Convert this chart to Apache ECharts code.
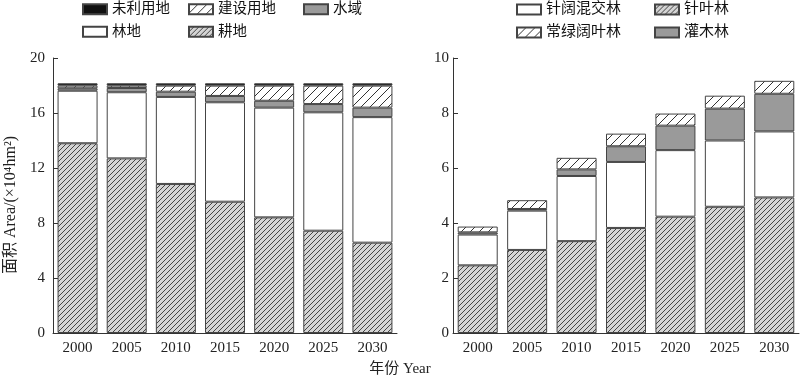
<!DOCTYPE html>
<html>
<head>
<meta charset="utf-8">
<script src="https://cdn.jsdelivr.net/npm/echarts@6/dist/echarts.min.js"></script>
<style>
  html, body { margin: 0; padding: 0; background: #fff; }
  #chart { width: 800px; height: 377px; }
</style>
</head>
<body>
<div id="chart"></div>
<script>
  // years on both x axes
  var years = ['2000', '2005', '2010', '2015', '2020', '2025', '2030'];

  // left panel: land use (10^4 hm2)
  var cropland = [13.8, 12.7, 10.84, 9.55, 8.41, 7.44, 6.57];
  var forest = [3.82, 4.81, 6.33, 7.23, 7.98, 8.61, 9.13];
  var water = [0.18, 0.31, 0.38, 0.46, 0.5, 0.6, 0.69];
  var construction = [0.19, 0.17, 0.44, 0.75, 1.1, 1.34, 1.6];
  var unused = [0.17, 0.17, 0.17, 0.17, 0.17, 0.17, 0.17];

  // right panel: forest types
  var conifer = [2.46, 3.02, 3.34, 3.82, 4.23, 4.59, 4.93];
  var mixed = [1.12, 1.43, 2.37, 2.40, 2.42, 2.41, 2.40];
  var shrub = [0.08, 0.06, 0.24, 0.57, 0.89, 1.16, 1.37];
  var evergreen = [0.21, 0.32, 0.42, 0.46, 0.44, 0.47, 0.47];

  var FONT = '"Liberation Serif", "Noto Sans CJK SC", serif';
  var EDGE = '#444';

  // diagonal hatch tile
  function hatch(bg, line, period) {
    var c = document.createElement('canvas');
    c.width = period; c.height = period;
    var ctx = c.getContext('2d');
    ctx.fillStyle = bg;
    ctx.fillRect(0, 0, period, period);
    ctx.strokeStyle = line;
    ctx.lineWidth = 1;
    ctx.beginPath();
    ctx.moveTo(-1, period + 1); ctx.lineTo(period + 1, -1);
    ctx.moveTo(-1, 1); ctx.lineTo(1, -1);
    ctx.moveTo(period - 1, period + 1); ctx.lineTo(period + 1, period - 1);
    ctx.stroke();
    return { image: c, repeat: 'repeat' };
  }

  var grayHatch = hatch('#d4d4d4', '#444', 5);
  var whiteHatch = hatch('#ffffff', '#333', 9);

  function bar(name, data, fill, idx) {
    return {
      name: name,
      type: 'bar',
      stack: 's' + idx,
      xAxisIndex: idx,
      yAxisIndex: idx,
      barWidth: 40,
      data: data,
      itemStyle: { color: fill, borderColor: EDGE, borderWidth: 1 },
      emphasis: { disabled: true }
    };
  }

  function xAxis(idx) {
    return {
      type: 'category',
      gridIndex: idx,
      data: years,
      axisLine: { lineStyle: { color: '#333', width: 1 } },
      axisTick: { show: false },
      axisLabel: { color: '#222', fontSize: 15, fontFamily: FONT, margin: 8 }
    };
  }

  function yAxis(idx, max, step, margin) {
    return {
      type: 'value',
      gridIndex: idx,
      min: 0,
      max: max,
      interval: step,
      splitLine: { show: false },
      axisLine: { show: true, lineStyle: { color: '#333', width: 1 } },
      axisTick: { show: true, inside: true, length: 5, lineStyle: { color: '#333' } },
      axisLabel: { color: '#222', fontSize: 15, fontFamily: FONT, margin: margin }
    };
  }

  function legend(left, names, size) {
    return {
      orient: 'vertical',
      left: left,
      top: 2,
      padding: 0,
      itemWidth: 24,
      itemHeight: 10,
      itemGap: 8,
      icon: 'rect',
      selectedMode: false,
      textStyle: { fontSize: size, color: '#111', fontFamily: FONT },
      data: names
    };
  }

  var chart = echarts.init(document.getElementById('chart'));

  chart.setOption({
    animation: false,
    title: {
      text: '年份 Year',
      left: 'center',
      top: 357,
      textStyle: { fontSize: 15, fontWeight: 'normal', color: '#222', fontFamily: FONT }
    },
    graphic: [{
      type: 'text',
      x: 11,
      y: 205,
      rotation: Math.PI / 2,
      style: {
        text: '面积 Area/(×10⁴hm²)',
        fontSize: 16,
        fontFamily: FONT,
        fill: '#222',
        align: 'center',
        verticalAlign: 'middle'
      }
    }],
    legend: [
      legend(82, ['未利用地', '林地'], 14.5),
      legend(188, ['建设用地', '耕地'], 14.5),
      legend(303, ['水域'], 14.5),
      legend(516, ['针阔混交林', '常绿阔叶林'], 15),
      legend(654, ['针叶林', '灌木林'], 15)
    ],
    grid: [
      { left: 53, right: 403, top: 58, bottom: 44 },
      { left: 453, right: 1, top: 58, bottom: 44 }
    ],
    xAxis: [xAxis(0), xAxis(1)],
    yAxis: [yAxis(0, 20, 4, 8), yAxis(1, 10, 2, 4)],
    series: [
      bar('耕地', cropland, grayHatch, 0),
      bar('林地', forest, '#ffffff', 0),
      bar('水域', water, '#9a9a9a', 0),
      bar('建设用地', construction, whiteHatch, 0),
      bar('未利用地', unused, '#111111', 0),
      bar('针叶林', conifer, grayHatch, 1),
      bar('针阔混交林', mixed, '#ffffff', 1),
      bar('灌木林', shrub, '#9a9a9a', 1),
      bar('常绿阔叶林', evergreen, whiteHatch, 1)
    ]
  });
</script>
</body>
</html>
